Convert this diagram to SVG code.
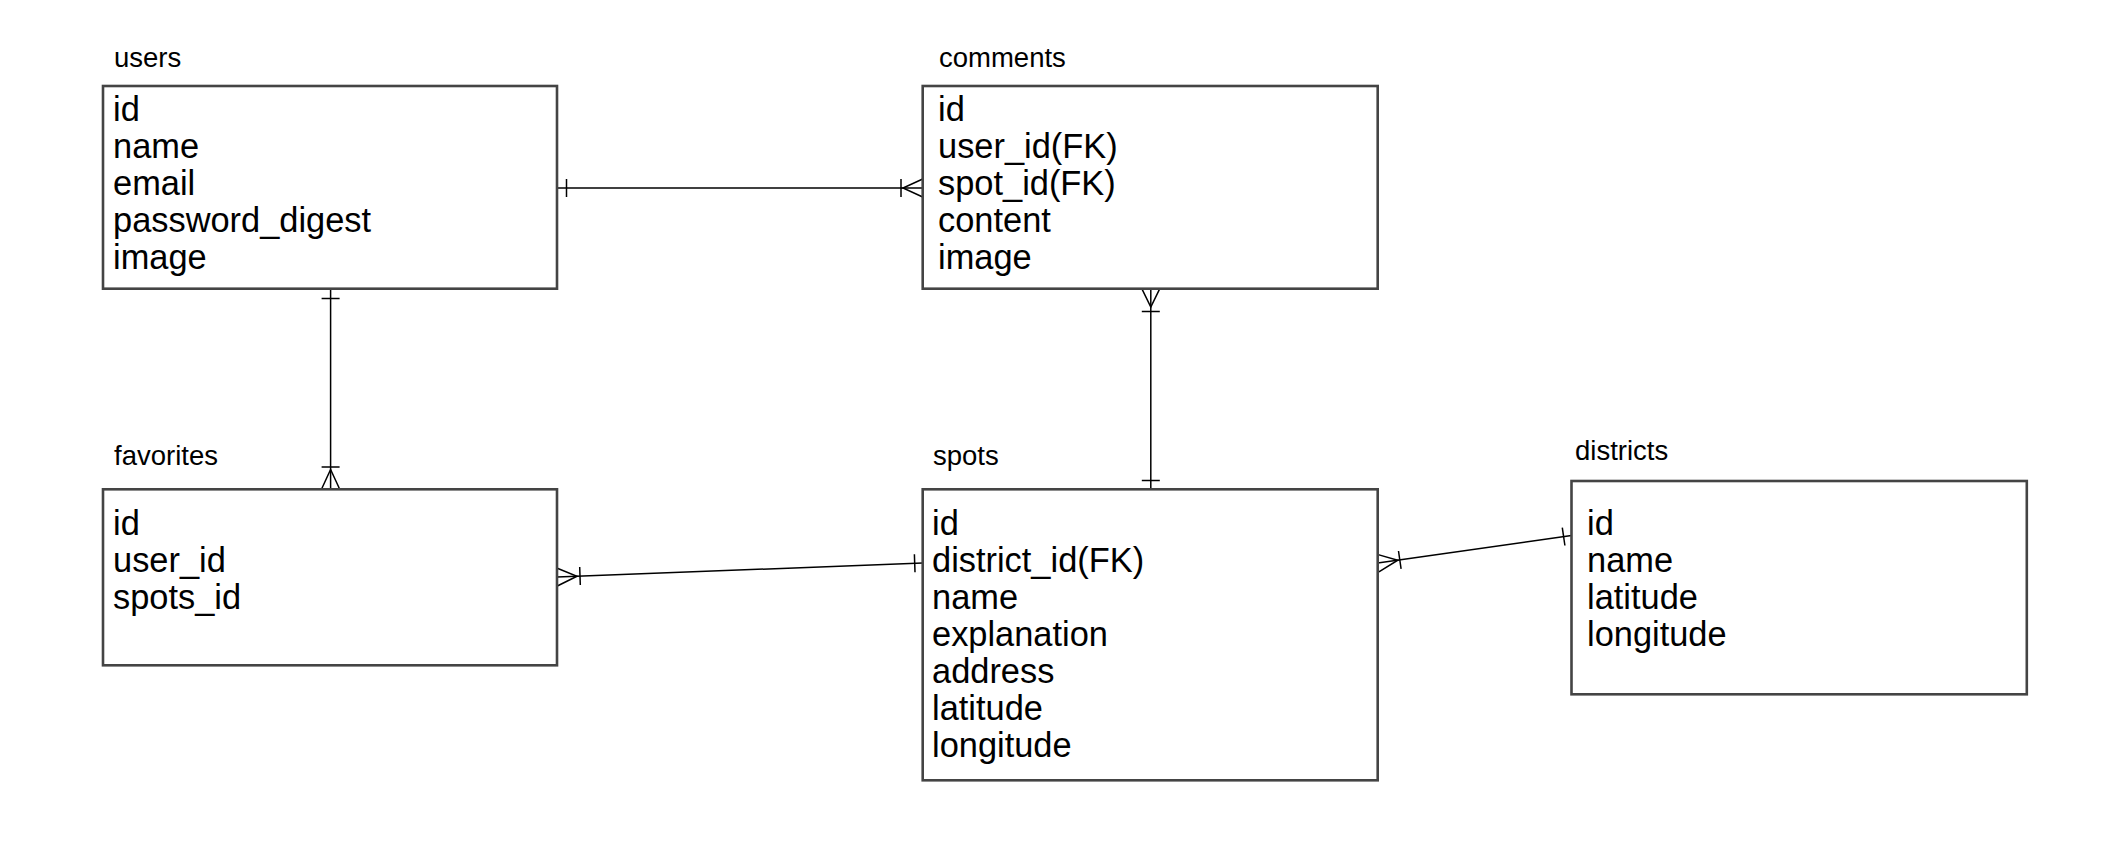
<svg xmlns="http://www.w3.org/2000/svg" width="2124" height="862" viewBox="0 0 2124 862">
<style>
.box{fill:#ffffff;stroke:#444444;stroke-width:2.6}
.title{font-family:"Liberation Sans",Arial,sans-serif;font-size:27.5px;fill:#000}
.attr{font-family:"Liberation Sans",Arial,sans-serif;font-size:34.4px;fill:#000}
.conn{fill:none;stroke:#000;stroke-width:1.5}
</style>
<rect width="2124" height="862" fill="#ffffff"/>
<g id="connectors">
  <!-- users - comments -->
  <path class="conn" d="M557 188 H922.7"/>
  <path class="conn" d="M566.5 179 V197"/>
  <path class="conn" d="M922.7 179 L903 188 L922.7 197 M901 179 V197"/>
  <!-- users - favorites -->
  <path class="conn" d="M330.6 288.7 V489"/>
  <path class="conn" d="M321.6 298.5 H339.6"/>
  <path class="conn" d="M321.6 489 L330.6 469.5 L339.6 489 M321.6 467 H339.6"/>
  <!-- comments - spots -->
  <path class="conn" d="M1150.8 288.7 V489"/>
  <path class="conn" d="M1141.8 288.7 L1150.8 307 L1159.8 288.7 M1141.8 311.5 H1159.8"/>
  <path class="conn" d="M1141.8 480.5 H1159.8"/>
  <!-- favorites - spots -->
  <path class="conn" d="M557 577 L922.7 563"/>
  <path class="conn" d="M557.3 586 L577 576.2 L556.7 568 M580.3 585.1 L579.7 567.1"/>
  <path class="conn" d="M915 572.3 L914.4 554.3"/>
  <!-- spots - districts -->
  <path class="conn" d="M1377.7 563 L1571.5 535.5"/>
  <path class="conn" d="M1378.9 571.9 L1397.8 560.2 L1376.4 554.1 M1401.1 568.8 L1398.5 551"/>
  <path class="conn" d="M1564.9 545.5 L1562.3 527.7"/>
</g>
<g id="users">
  <text class="title" x="114" y="67">users</text>
  <rect class="box" x="103" y="86" width="454" height="202.7"/>
  <text class="attr" x="113" y="121">id</text>
  <text class="attr" x="113" y="158">name</text>
  <text class="attr" x="113" y="195">email</text>
  <text class="attr" x="113" y="232">password_digest</text>
  <text class="attr" x="113" y="269">image</text>
</g>
<g id="comments">
  <text class="title" x="939" y="67">comments</text>
  <rect class="box" x="922.7" y="86" width="455" height="202.7"/>
  <text class="attr" x="938" y="121">id</text>
  <text class="attr" x="938" y="158">user_id(FK)</text>
  <text class="attr" x="938" y="195">spot_id(FK)</text>
  <text class="attr" x="938" y="232">content</text>
  <text class="attr" x="938" y="269">image</text>
</g>
<g id="favorites">
  <text class="title" x="114" y="465">favorites</text>
  <rect class="box" x="103" y="489.3" width="454" height="176"/>
  <text class="attr" x="113" y="535">id</text>
  <text class="attr" x="113" y="572">user_id</text>
  <text class="attr" x="113" y="609">spots_id</text>
</g>
<g id="spots">
  <text class="title" x="933" y="465">spots</text>
  <rect class="box" x="922.7" y="489.3" width="455" height="291"/>
  <text class="attr" x="932" y="535">id</text>
  <text class="attr" x="932" y="572">district_id(FK)</text>
  <text class="attr" x="932" y="609">name</text>
  <text class="attr" x="932" y="646">explanation</text>
  <text class="attr" x="932" y="683">address</text>
  <text class="attr" x="932" y="720">latitude</text>
  <text class="attr" x="932" y="757">longitude</text>
</g>
<g id="districts">
  <text class="title" x="1575" y="460">districts</text>
  <rect class="box" x="1571.5" y="481" width="455.3" height="213.3"/>
  <text class="attr" x="1587" y="535">id</text>
  <text class="attr" x="1587" y="572">name</text>
  <text class="attr" x="1587" y="609">latitude</text>
  <text class="attr" x="1587" y="646">longitude</text>
</g>
</svg>
